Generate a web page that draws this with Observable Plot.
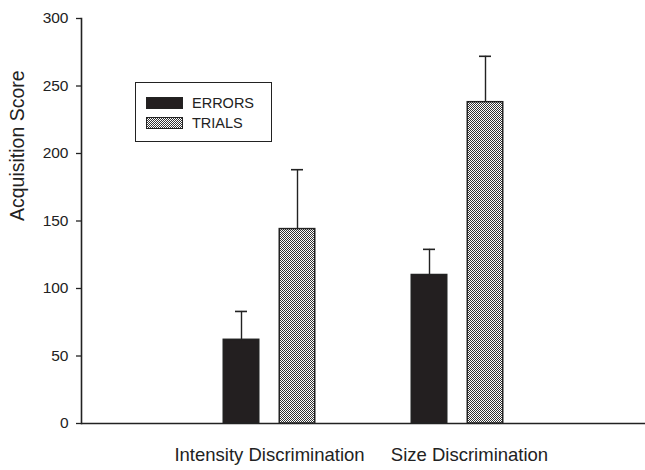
<!DOCTYPE html>
<html>
<head>
<meta charset="utf-8">
<script src="https://cdn.jsdelivr.net/npm/d3@7"></script>
<script src="https://cdn.jsdelivr.net/npm/@observablehq/plot@0.6"></script>
<style>
  html, body { margin: 0; padding: 0; background: #fff; }
  #wrap { position: relative; width: 645px; height: 470px; font-family: "Liberation Sans", Arial, sans-serif; }
  #legend { position: absolute; left: 135px; top: 82px; width: 137px; height: 60px; border: 1.3px solid #222; box-sizing: border-box; }
  .sw { position: absolute; left: 10px; width: 37px; height: 12px; box-sizing: border-box; border: 1px solid #222; }
  .lt { position: absolute; left: 56px; font-size: 14.5px; color: #222; line-height: 14px; }
</style>
</head>
<body>
<div id="wrap">
  <div id="chart"></div>
  <div id="legend">
    <div class="sw" style="top:14px;background:#231f20;"></div>
    <div class="lt" style="top:13px;">ERRORS</div>
    <div class="sw" id="sw2" style="top:34px;"></div>
    <div class="lt" style="top:33px;">TRIALS</div>
  </div>
</div>
<script>
const groups = ["Intensity Discrimination", "Size Discrimination"];
const series = ["ERRORS", "TRIALS"];
const errorsMean = [62, 110];
const errorsUpper = [83, 129];
const trialsMean = [144, 238];
const trialsUpper = [188, 272];
const yTicks = [0, 50, 100, 150, 200, 250, 300];

const errors = groups.map((g, i) => ({group: g, series: series[0], value: errorsMean[i], hi: errorsUpper[i]}));
const trials = groups.map((g, i) => ({group: g, series: series[1], value: trialsMean[i], hi: trialsUpper[i]}));

const checker = "data:image/svg+xml;utf8," + encodeURIComponent('<svg xmlns="http://www.w3.org/2000/svg" width="2" height="2"><rect width="2" height="2" fill="#fff"/><rect width="1" height="1" fill="#333"/><rect x="1" y="1" width="1" height="1" fill="#333"/></svg>');
document.getElementById("sw2").style.background = `url("${checker}")`;

function defs() {
  const ns = "http://www.w3.org/2000/svg";
  const d = document.createElementNS(ns, "defs");
  const p = document.createElementNS(ns, "pattern");
  p.setAttribute("id", "chk");
  p.setAttribute("width", 2);
  p.setAttribute("height", 2);
  p.setAttribute("patternUnits", "userSpaceOnUse");
  const bg = document.createElementNS(ns, "rect");
  bg.setAttribute("width", 2); bg.setAttribute("height", 2); bg.setAttribute("fill", "#fff");
  p.appendChild(bg);
  [[0, 0], [1, 1]].forEach(([x, y]) => {
    const r = document.createElementNS(ns, "rect");
    r.setAttribute("x", x); r.setAttribute("y", y);
    r.setAttribute("width", 1); r.setAttribute("height", 1); r.setAttribute("fill", "#333");
    p.appendChild(r);
  });
  d.appendChild(p);
  return d;
}

const barInset = 76.25;   // bar width ~35.5 in a 188px band
const capInset = 88;      // cap width ~12
const off = 28;           // bar centre offset from group centre

function groupMarks(rows, fill, dx) {
  return [
    Plot.ruleX(rows, {x: "group", y1: "value", y2: "hi", dx, stroke: "#222", strokeWidth: 1.4}),
    Plot.tickY(rows, {x: "group", y: "hi", dx, insetLeft: capInset, insetRight: capInset, stroke: "#222", strokeWidth: 1.6}),
    Plot.barY(rows, {x: "group", y: "value", dx, insetLeft: barInset, insetRight: barInset, fill, stroke: "#222", strokeWidth: 1.5})
  ];
}

const chart = Plot.plot({
  width: 645,
  height: 470,
  marginLeft: 81,
  marginRight: 0,
  marginTop: 18,
  marginBottom: 47,
  style: {fontFamily: "'Liberation Sans', Arial, sans-serif", color: "#222", background: "#fff"},
  x: {domain: groups, paddingInner: 0, paddingOuter: 0.5, axis: null},
  y: {domain: [0, 300], axis: null},
  marks: [
    defs,
    Plot.axisY({ticks: yTicks, tickSize: 5, tickPadding: 8, fontSize: 15.5, strokeWidth: 1.3, label: null}),
    Plot.text(["Acquisition Score"], {frameAnchor: "left", dx: -64, rotate: -90, fontSize: 19.5, fill: "#222"}),
    Plot.frame({anchor: "left", stroke: "#222", strokeWidth: 1.6}),
    Plot.ruleY([0], {stroke: "#222", strokeWidth: 1.6}),
    ...groupMarks(errors, "#231f20", -off),
    ...groupMarks(trials, "url(#chk)", off),
    Plot.text([groups[0]], {x: d => d, frameAnchor: "bottom", dy: 37, fontSize: 18.5, fill: "#222"}),
    Plot.text([groups[1]], {x: d => d, frameAnchor: "bottom", dy: 37, dx: 12, fontSize: 18.5, fill: "#222"})
  ]
});
document.getElementById("chart").appendChild(chart);
</script>
</body>
</html>
